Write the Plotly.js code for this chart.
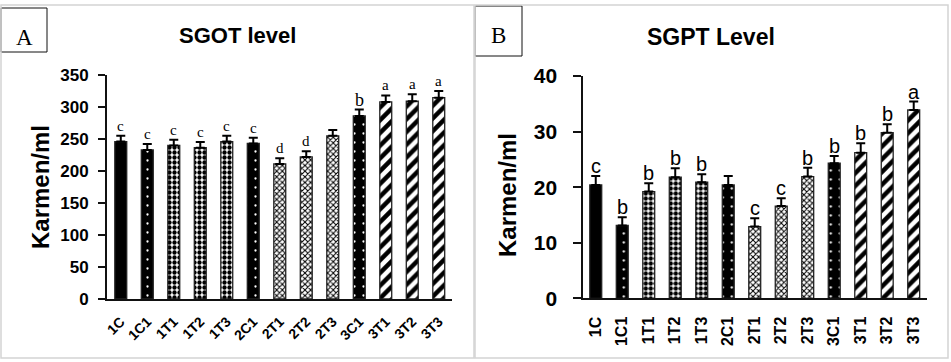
<!DOCTYPE html>
<html>
<head>
<meta charset="utf-8">
<script src="https://cdn.plot.ly/plotly-3.0.1.min.js"></script>
<style>
  html, body { margin: 0; padding: 0; background: #fff; }
  #chart { width: 951px; height: 362px; }
</style>
</head>
<body>
<div id="chart"></div>
<script>
// Groups shown on both panels
const groups = ['1C', '1C1', '1T1', '1T2', '1T3', '2C1', '2T1', '2T2', '2T3', '3C1', '3T1', '3T2', '3T3'];

// SGOT (panel A): means, standard errors and significance letters
const sgotMean = [246, 233, 240, 236.5, 246, 243, 211, 222, 255, 286, 308, 309, 314.5];
const sgotErr  = [9, 9, 9, 9, 9, 9, 9, 9, 9, 10, 10, 11, 10.5];
const sgotSig  = ['c', 'c', 'c', 'c', 'c', 'c', 'd', 'd', '', 'b', 'a', 'a', 'a'];

// SGPT (panel B)
const sgptMean = [20.4, 13.1, 19.2, 21.8, 20.9, 20.4, 12.9, 16.6, 21.9, 24.3, 26.2, 29.8, 33.9];
const sgptErr  = [1.6, 1.5, 1.5, 1.6, 1.4, 1.6, 1.5, 1.4, 1.6, 1.3, 1.7, 1.5, 1.5];
const sgptSig  = ['c', 'b', 'b', 'b', 'b', '', 'c', 'c', 'b', 'b', 'b', 'b', 'a'];

// Fill styles: each group family gets its own hatch
const styles = [
  { test: g => g === '1C',            color: '#000', pattern: { shape: '' } },
  { test: g => /^\dC1$/.test(g),      color: '#000', pattern: { shape: '.', fgcolor: '#fff', bgcolor: '#000', size: 9, solidity: 0.05, fillmode: 'replace' } },
  { test: g => /^1T/.test(g),         color: '#fff', pattern: { shape: '.', fgcolor: '#000', bgcolor: '#fff', size: 5, solidity: 0.6, fillmode: 'replace' } },
  { test: g => /^2T/.test(g),         color: '#fff', pattern: { shape: 'x', fgcolor: '#000', bgcolor: '#fff', size: 4, solidity: 0.45, fillmode: 'replace' } },
  { test: g => /^3T/.test(g),         color: '#fff', pattern: { shape: '/', fgcolor: '#000', bgcolor: '#fff', size: 9, solidity: 0.5, fillmode: 'replace' } }
];

const W = 951, H = 362;
const px = x => x / W;
const py = y => 1 - y / H;

function panelTraces(means, errs, xa, ya) {
  return styles.map(st => {
    const idx = groups.map((g, i) => i).filter(i => st.test(groups[i]));
    return {
      type: 'bar', xaxis: xa, yaxis: ya,
      x: idx.map(i => groups[i]),
      y: idx.map(i => means[i]),
      width: 0.45,
      marker: { color: st.color, line: { color: '#222', width: 1.3 }, pattern: st.pattern },
      error_y: {
        type: 'data', symmetric: false,
        array: idx.map(i => errs[i]), arrayminus: idx.map(() => 0),
        color: '#000', thickness: 2, width: 4.5
      },
      showlegend: false
    };
  });
}

const sansBold = 'Liberation Sans, Arial, sans-serif';
const serif = 'Liberation Serif, Times New Roman, serif';

const annotations = [];
// significance letters above the error bars
groups.forEach((g, i) => {
  if (sgotSig[i]) annotations.push({
    xref: 'x', yref: 'y', x: g, y: sgotMean[i] + sgotErr[i], text: sgotSig[i],
    showarrow: false, xanchor: 'center', yanchor: 'bottom', yshift: sgotSig[i] === 'b' ? -2 : 0,
    font: { family: serif, size: sgotSig[i] === 'b' ? 18 : 15, color: '#000' }
  });
  if (sgptSig[i]) annotations.push({
    xref: 'x2', yref: 'y2', x: g, y: sgptMean[i] + sgptErr[i], text: sgptSig[i],
    showarrow: false, xanchor: 'center', yanchor: 'bottom', yshift: -3,
    font: { family: sansBold, size: 20, color: '#000' }
  });
});

// panel titles, axis titles and panel letters
function paperText(x, y, text, font, angle) {
  return { xref: 'paper', yref: 'paper', x: px(x), y: py(y), text: text, showarrow: false,
           xanchor: 'center', yanchor: 'middle', textangle: angle || 0, font: font };
}
annotations.push(
  paperText(237.5, 36, '<b>SGOT level</b>', { family: sansBold, size: 22, color: '#000' }),
  paperText(711, 37, '<b>SGPT Level</b>', { family: sansBold, size: 23, color: '#000' }),
  paperText(41, 187, '<b>Karmen/ml</b>', { family: sansBold, size: 24, color: '#000' }, -90),
  paperText(507, 195, '<b>Karmen/ml</b>', { family: sansBold, size: 24, color: '#000' }, -90),
  paperText(24.5, 37, 'A', { family: serif, size: 23, color: '#000' }),
  paperText(498.5, 36, 'B', { family: serif, size: 23, color: '#000' })
);

const frame = { color: '#d4d4d4', width: 1.5 };
const shapes = [
  { type: 'rect', xref: 'paper', yref: 'paper', x0: px(1), x1: px(474), y0: py(358), y1: py(5), line: frame },
  { type: 'rect', xref: 'paper', yref: 'paper', x0: px(475), x1: px(948), y0: py(358), y1: py(5), line: frame },
  { type: 'rect', xref: 'paper', yref: 'paper', x0: px(1), x1: px(47), y0: py(52), y1: py(8),
    line: { color: '#111', width: 1 }, fillcolor: '#fff', layer: 'below' },
  { type: 'rect', xref: 'paper', yref: 'paper', x0: px(475), x1: px(522), y0: py(56), y1: py(6),
    line: { color: '#111', width: 1 }, fillcolor: '#fff', layer: 'below' }
];

const xCommon = {
  type: 'category', categoryorder: 'array', categoryarray: groups,
  showline: true, linecolor: '#111', linewidth: 2, ticks: '', showgrid: false, zeroline: false,
  fixedrange: true
};
const yCommon = {
  showline: true, linecolor: '#111', linewidth: 2, ticks: 'outside', tickcolor: '#111',
  tickwidth: 2, showgrid: false, zeroline: false, fixedrange: true
};

const layout = {
  width: W, height: H,
  margin: { l: 0, r: 0, t: 0, b: 0 },
  paper_bgcolor: '#fff', plot_bgcolor: 'rgba(0,0,0,0)',
  barmode: 'overlay', showlegend: false,
  xaxis: Object.assign({}, xCommon, {
    domain: [px(107), px(452)], range: [-0.52, 12.5], anchor: 'y',
    tickangle: -45, ticklabelstandoff: 7,
    tickfont: { family: sansBold, size: 14, color: '#000', weight: 'bold' }
  }),
  yaxis: Object.assign({}, yCommon, {
    domain: [py(299), py(75)], range: [0, 350], dtick: 50, anchor: 'x', ticklen: 7,
    ticklabelstandoff: 6,
    tickfont: { family: sansBold, size: 17, color: '#000', weight: 'bold' }
  }),
  xaxis2: Object.assign({}, xCommon, {
    domain: [px(583.3), px(926.7)], range: [-0.47, 12.49], anchor: 'y2',
    tickangle: -90, ticklabelstandoff: 10,
    tickfont: { family: sansBold, size: 16, color: '#000', weight: 'bold' }
  }),
  yaxis2: Object.assign({}, yCommon, {
    domain: [py(298.3), py(76)], range: [0, 40], dtick: 10, anchor: 'x2', ticklen: 8,
    ticklabelstandoff: 12,
    tickfont: { family: sansBold, size: 21, color: '#000', weight: 'bold' }
  }),
  shapes: shapes,
  annotations: annotations
};

Plotly.newPlot('chart', [
  ...panelTraces(sgotMean, sgotErr, 'x', 'y'),
  ...panelTraces(sgptMean, sgptErr, 'x2', 'y2')
], layout, { displayModeBar: false, staticPlot: true });
</script>
</body>
</html>
